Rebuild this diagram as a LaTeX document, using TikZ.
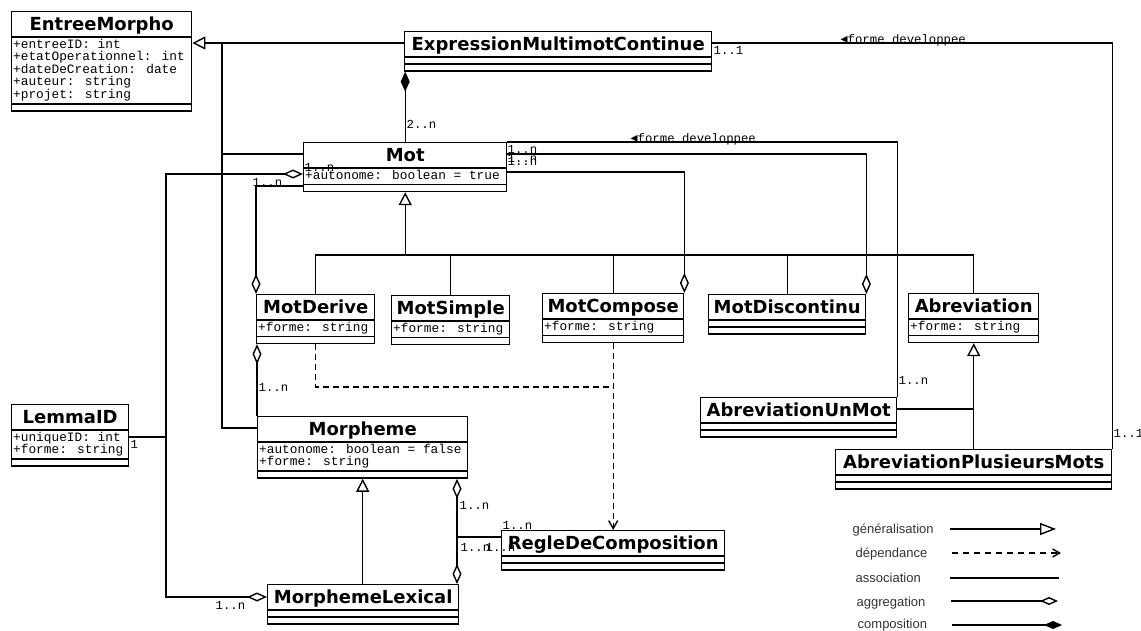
\documentclass[tikz,border=0pt]{standalone}
\usepackage{fontspec}
\usetikzlibrary{arrows.meta,shapes.multipart}
\newfontfamily\clsfont{DejaVu Sans}
\newfontfamily\attfont{Liberation Mono}
\newfontfamily\lgdfont{Liberation Sans}
\newcommand{\cls}[1]{{\clsfont\bfseries\fontsize{18}{20}\selectfont\rule[-5pt]{0pt}{22pt}#1}}
\newcommand{\att}[1]{\vbox{\baselineskip=12.6pt\lineskiplimit=-100pt\let\\\cr
  \halign{\strut##\hfil\cr#1\crcr}}}
\newcommand{\nops}{\rule{0pt}{3.5pt}}
\newcommand{\tip}{{\clsfont\fontsize{14}{14}\selectfont ◂}}
\begin{document}
\begin{tikzpicture}[x=1pt,y=-1pt,line width=1.4pt,
  umlclass/.style={draw,rectangle split,rectangle split parts=3,
    rectangle split part align={center,left,left},anchor=north west,
    inner xsep=1.5pt,inner ysep=1pt,font=\attfont\fontsize{12.8}{12.6}\selectfont},
  mult/.style={anchor=base west,inner sep=0pt,font=\attfont\fontsize{12.3}{14}\selectfont},
  gen/.style={-{Triangle[open,length=13pt,width=13pt]}},
  aggr/.style={-{Diamond[open,length=20pt,width=9pt]}},
  comp/.style={-{Diamond[length=20pt,width=9pt]}},
  dep/.style={dash pattern=on 6pt off 4pt,-{Straight Barb[length=8pt,width=9pt]}},
  lgd/.style={anchor=base west,inner sep=0pt,text=black!80,font=\lgdfont\fontsize{13}{15}\selectfont}]
\useasboundingbox (0,0) rectangle (1141,631);

\node[umlclass,minimum width=180pt] (entree) at (11,11) {\cls{EntreeMorpho}\nodepart{second}\att{+entreeID: int\\+etatOperationnel: int\\+dateDeCreation: date\\+auteur: string\\+projet: string}\nodepart{third}\nops};
\node[umlclass,minimum width=307pt] (expr) at (404,31) {\cls{ExpressionMultimotContinue}\nodepart{second}\nops\nodepart{third}\nops};
\node[umlclass,minimum width=203pt] (mot) at (303,142) {\cls{Mot}\nodepart{second}\att{+autonome: boolean = true}\nodepart{third}\nops};
\node[umlclass,minimum width=118pt] (motderive) at (256,294) {\cls{MotDerive}\nodepart{second}\att{+forme: string}\nodepart{third}\nops};
\node[umlclass,minimum width=118pt] (motsimple) at (391,295) {\cls{MotSimple}\nodepart{second}\att{+forme: string}\nodepart{third}\nops};
\node[umlclass,minimum width=141pt] (motcompose) at (542,293) {\cls{MotCompose}\nodepart{second}\att{+forme: string}\nodepart{third}\nops};
\node[umlclass,minimum width=157pt] (motdisc) at (708,294) {\cls{MotDiscontinu}\nodepart{second}\nops\nodepart{third}\nops};
\node[umlclass,minimum width=130pt] (abrev) at (908,293) {\cls{Abreviation}\nodepart{second}\att{+forme: string}\nodepart{third}\nops};
\node[umlclass,minimum width=196pt] (abrevunmot) at (700,397) {\cls{AbreviationUnMot}\nodepart{second}\nops\nodepart{third}\nops};
\node[umlclass,minimum width=276pt] (abrevplus) at (835,449) {\cls{AbreviationPlusieursMots}\nodepart{second}\nops\nodepart{third}\nops};
\node[umlclass,minimum width=117pt] (lemma) at (11,404) {\cls{LemmaID}\nodepart{second}\att{+uniqueID: int\\+forme: string}\nodepart{third}\nops};
\node[umlclass,minimum width=210pt] (morph) at (257,416) {\cls{Morpheme}\nodepart{second}\att{+autonome: boolean = false\\+forme: string}\nodepart{third}\nops};
\node[umlclass,minimum width=223pt] (regle) at (501,530) {\cls{RegleDeComposition}\nodepart{second}\nops\nodepart{third}\nops};
\node[umlclass,minimum width=191pt] (morphlex) at (267,584) {\cls{MorphemeLexical}\nodepart{second}\nops\nodepart{third}\nops};

\coordinate (gj) at (222,43);
\coordinate (lj) at (166,437);
\coordinate (rj) at (457,537);

\draw[gen] (expr.west |- gj) -- (entree.east |- gj);
\draw (mot.west |- 0,154) -| (gj);
\draw (morph.west |- 0,428) -| (gj);
\draw[comp] (mot.north) -- (mot.north |- expr.south);
\draw (expr.east |- gj) -| (abrevplus.north east);
\draw (mot.north east) -| (abrevunmot.north east);
\draw[aggr] (mot.east |- 0,154) -| (motdisc.north east);
\draw[aggr] (mot.east |- 0,172) -| (motcompose.north east);
\draw[gen] (mot.south |- 0,255) -- (mot.south);
\draw (motderive.north) |- (abrev.north |- 0,255) -- (abrev.north);
\draw (motsimple.north) -- (motsimple.north |- 0,255);
\draw (motcompose.north) -- (motcompose.north |- 0,255);
\draw (motdisc.north) -- (motdisc.north |- 0,255);
\draw[aggr] (mot.west |- 0,186) -| (motderive.north west);
\draw[aggr] (lj) |- (mot.west |- 0,174);
\draw[aggr] (lj) |- (morphlex.west |- 0,597);
\draw (lemma.east |- lj) -- (lj);
\draw[aggr] (morph.north west) -- (morph.north west |- motderive.south);
\draw[dep] (motcompose.south) -- (regle.north);
\draw[dash pattern=on 6pt off 4pt] (motderive.south) |- (motcompose.south |- 0,387);
\draw[gen] (morph.south |- morphlex.north) -- (morph.south);
\draw[aggr] (rj) -- (rj |- morph.south);
\draw[aggr] (rj) -- (rj |- morphlex.north);
\draw (rj) -- (regle.west |- rj);
\draw[gen] (abrevplus.north) -- (abrev.south);
\draw (abrevunmot.east |- 0,409) -- (abrev.south |- 0,409);

\node[mult] (m1) at (406,129) {2..n};
\node[mult] (m2) at (507,154) {1..n};
\node[mult] (m3) at (507,163) {1..n};
\node[mult] (m4) at (507,166) {1..n};
\node[mult] (m5) at (304,172) {1..n};
\node[mult] (m6) at (252,187) {1..n};
\node[mult] (m7) at (258,391) {1..n};
\node[mult] (m8) at (898,384) {1..n};
\node[mult] (m9) at (1113,437) {1..1};
\node[mult] (m10) at (713,55) {1..1};
\node[mult] (m11) at (130,448) {1};
\node[mult] (m12) at (215,609) {1..n};
\node[mult] (m13) at (459,509) {1..n};
\node[mult] (m14) at (502,529) {1..n};
\node[mult] (m15) at (460,551) {1..n};
\node[mult] (m16) at (485,551) {1..n};
\node[mult] (fd1) at (840,44) {\tip forme developpee};
\node[mult] (fd2) at (630,143) {\tip forme developpee};

\node[lgd] (lgen) at (852,533) {généralisation};
\node[lgd] (ldep) at (855,557) {dépendance};
\node[lgd] (lass) at (855,582) {association};
\node[lgd] (lagg) at (856,606) {aggregation};
\node[lgd] (lcom) at (857,628) {composition};
\draw[-{Triangle[open,length=16pt,width=12pt]}] (950,529) -- (1056,529);
\draw[dash pattern=on 6pt off 5pt,-{Straight Barb[length=7pt,width=8pt]}] (952,553) -- (1061,553);
\draw (950,578) -- (1059,578);
\draw[-{Diamond[open,length=18pt,width=8pt]}] (951,601) -- (1058,601);
\draw[-{Diamond[length=18pt,width=8pt]}] (952,625) -- (1062,625);
\end{tikzpicture}
\end{document}
